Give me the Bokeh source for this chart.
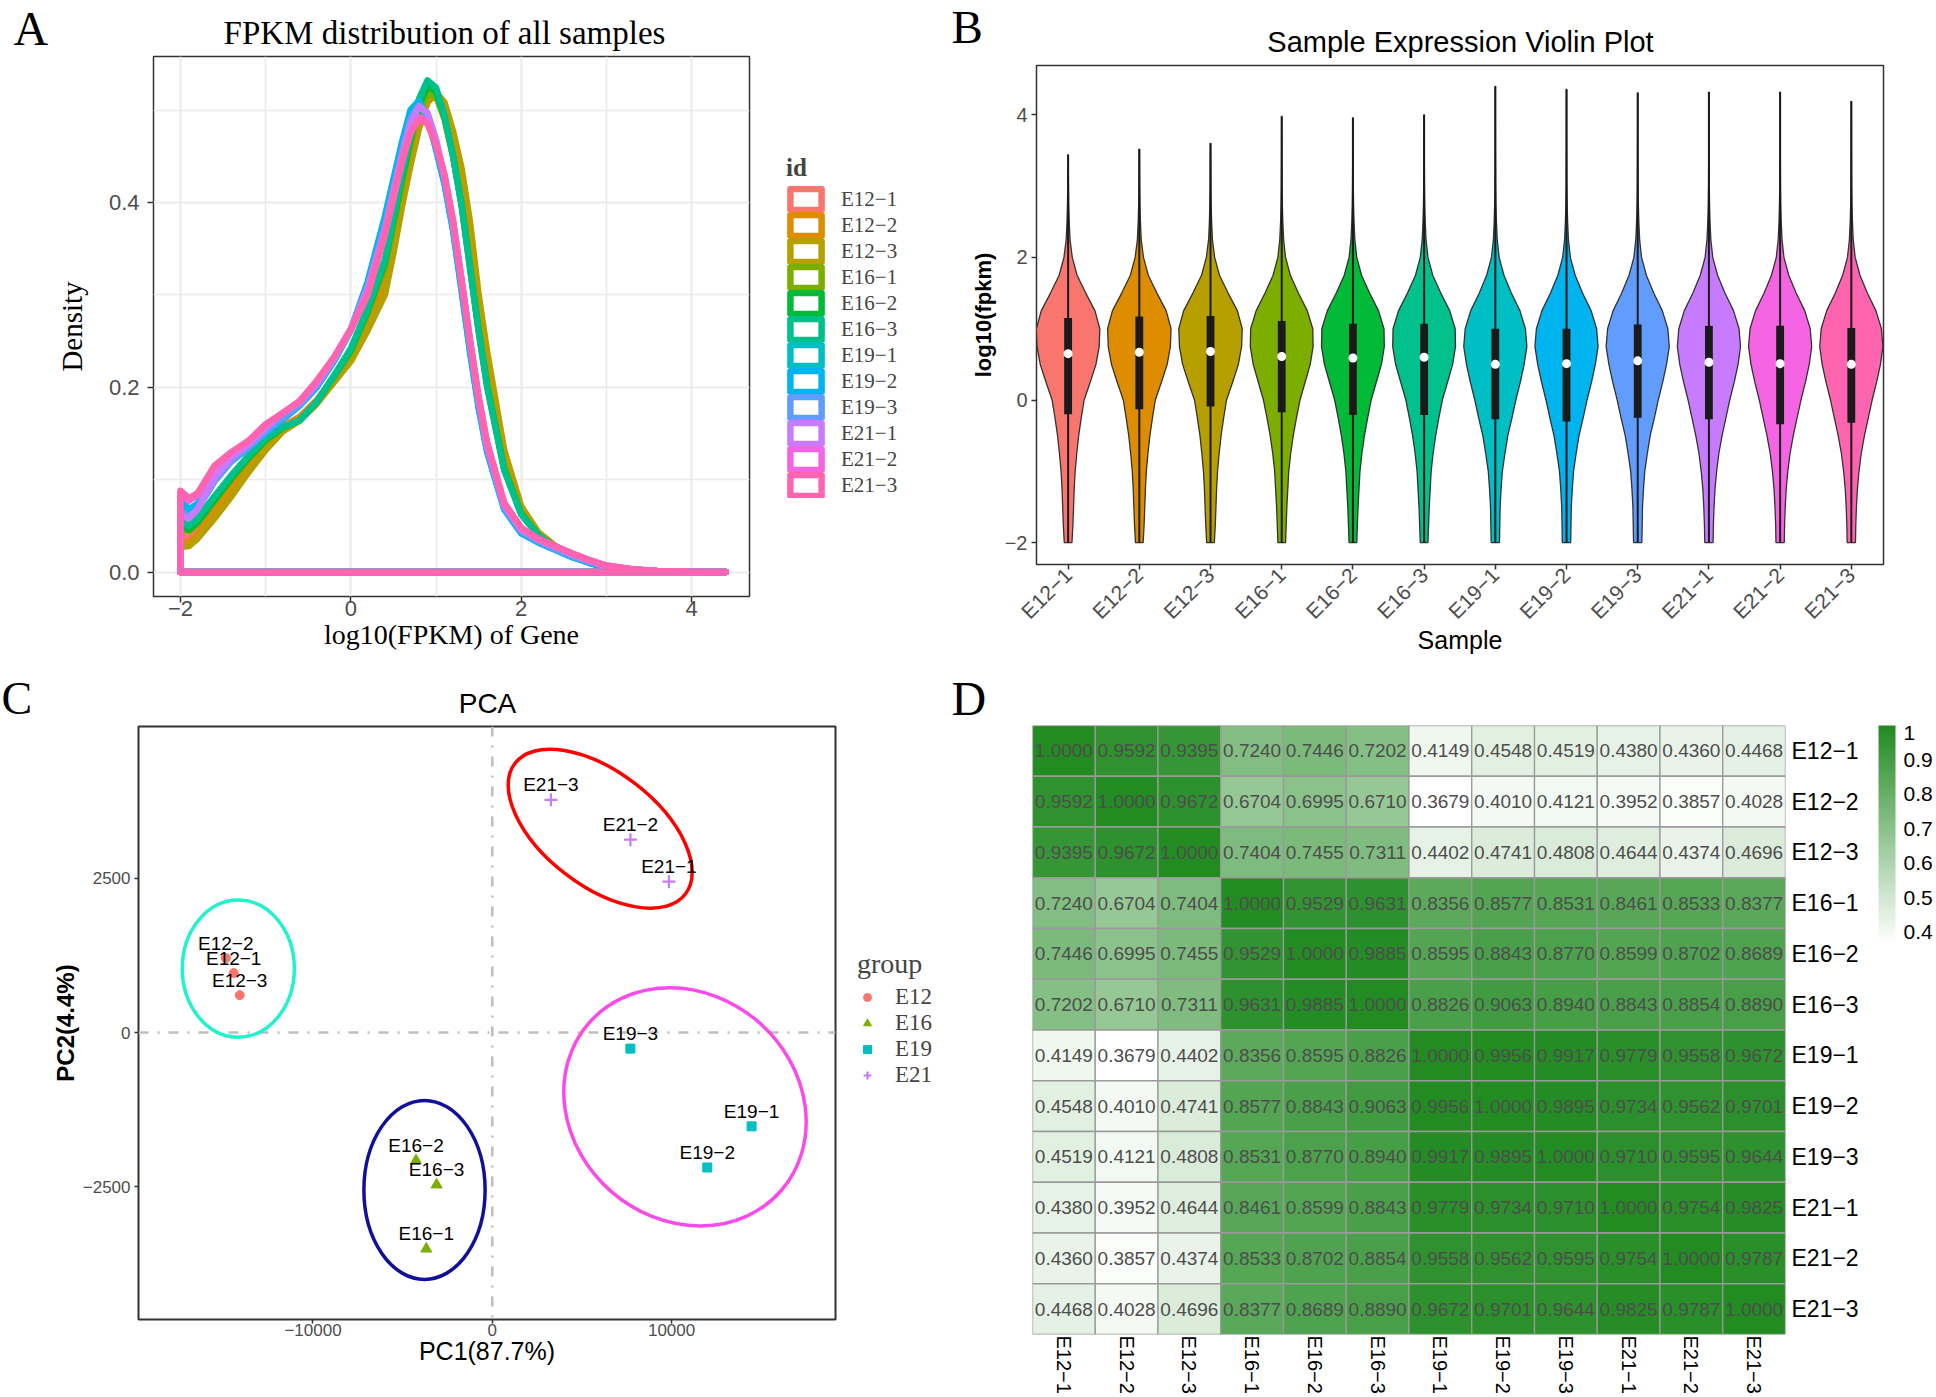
import math
from bokeh.plotting import figure
from bokeh.models import (Range1d, FactorRange, ColumnDataSource, FixedTicker, CategoricalAxis, Label,
                          Span, ColorBar, LinearColorMapper, PrintfTickFormatter, Legend, LegendItem)
from bokeh.transform import transform
from bokeh.layouts import column, row
from bokeh.embed import file_html
from bokeh.resources import INLINE
from bokeh.core.properties import value

MINUS = "\u2212"
SAMPLES = ["E12-1", "E12-2", "E12-3", "E16-1", "E16-2", "E16-3",
           "E19-1", "E19-2", "E19-3", "E21-1", "E21-2", "E21-3"]
SAMPLE_TEXT = [s.replace("-", MINUS) for s in SAMPLES]
HUE = ["#F8766D", "#DE8C00", "#B79F00", "#7CAE00", "#00BA38", "#00C08B",
       "#00BFC4", "#00B4F0", "#619CFF", "#C77CFF", "#F564E3", "#FF64B0"]

# ---------------- Panel A : density of log10(FPKM) ----------------
DENS_X = [-2.0, -1.9, -1.8, -1.6, -1.4, -1.2, -1.0, -0.8, -0.6, -0.4, -0.2, 0.0, 0.2, 0.4, 0.5,
          0.6, 0.7, 0.8, 0.9, 1.0, 1.1, 1.2, 1.3, 1.4, 1.5, 1.6, 1.8, 2.0, 2.2, 2.4, 2.6, 2.8,
          3.0, 3.3, 3.6, 4.0, 4.4]
DENS_E12_1 = [0.040, 0.036, 0.044, 0.068, 0.094, 0.118, 0.140, 0.158, 0.168, 0.186, 0.210, 0.232, 0.270, 0.315, 0.360,
              0.405, 0.448, 0.485, 0.510, 0.515, 0.498, 0.462, 0.415, 0.350, 0.280, 0.218, 0.122, 0.068, 0.042, 0.028,
              0.018, 0.011, 0.006, 0.002, 0.0008, 0.0002, 0.0]
DENS_E12_2 = [0.033, 0.031, 0.040, 0.064, 0.090, 0.115, 0.138, 0.156, 0.167, 0.185, 0.210, 0.234, 0.272, 0.318, 0.362,
              0.407, 0.450, 0.487, 0.511, 0.516, 0.500, 0.465, 0.420, 0.355, 0.285, 0.222, 0.125, 0.069, 0.042, 0.028,
              0.018, 0.011, 0.006, 0.002, 0.0008, 0.0002, 0.0]
DENS_E12_3 = [0.027, 0.028, 0.036, 0.058, 0.082, 0.108, 0.132, 0.152, 0.164, 0.182, 0.205, 0.228, 0.262, 0.300, 0.345,
              0.395, 0.440, 0.480, 0.508, 0.519, 0.508, 0.477, 0.437, 0.378, 0.300, 0.238, 0.132, 0.071, 0.043, 0.028,
              0.018, 0.011, 0.006, 0.002, 0.0008, 0.0002, 0.0]
DENS_E16_1 = [0.047, 0.044, 0.052, 0.076, 0.100, 0.122, 0.142, 0.156, 0.165, 0.184, 0.210, 0.238, 0.280, 0.330, 0.375,
              0.420, 0.462, 0.497, 0.518, 0.515, 0.490, 0.450, 0.398, 0.330, 0.262, 0.202, 0.112, 0.064, 0.040, 0.027,
              0.017, 0.010, 0.005, 0.002, 0.0008, 0.0002, 0.0]
DENS_E16_2 = [0.050, 0.046, 0.054, 0.078, 0.102, 0.124, 0.143, 0.156, 0.164, 0.184, 0.212, 0.240, 0.283, 0.335, 0.380,
              0.425, 0.468, 0.505, 0.526, 0.520, 0.492, 0.450, 0.398, 0.330, 0.262, 0.202, 0.112, 0.063, 0.040, 0.027,
              0.017, 0.010, 0.005, 0.002, 0.0008, 0.0002, 0.0]
DENS_E16_3 = [0.055, 0.050, 0.058, 0.082, 0.105, 0.126, 0.145, 0.157, 0.164, 0.184, 0.212, 0.242, 0.286, 0.338, 0.384,
              0.430, 0.474, 0.512, 0.532, 0.524, 0.494, 0.450, 0.396, 0.328, 0.260, 0.200, 0.110, 0.062, 0.040, 0.027,
              0.017, 0.010, 0.005, 0.002, 0.0008, 0.0002, 0.0]
DENS_E19_1 = [0.074, 0.066, 0.072, 0.100, 0.120, 0.134, 0.150, 0.165, 0.180, 0.200, 0.228, 0.262, 0.315, 0.385, 0.425,
              0.465, 0.500, 0.510, 0.492, 0.458, 0.420, 0.370, 0.305, 0.238, 0.178, 0.130, 0.068, 0.042, 0.032, 0.024,
              0.016, 0.010, 0.005, 0.002, 0.0007, 0.0002, 0.0]
DENS_E19_2 = [0.078, 0.068, 0.074, 0.102, 0.121, 0.135, 0.151, 0.166, 0.181, 0.201, 0.228, 0.262, 0.313, 0.382, 0.422,
              0.462, 0.497, 0.508, 0.492, 0.458, 0.420, 0.370, 0.305, 0.238, 0.178, 0.130, 0.068, 0.042, 0.032, 0.024,
              0.016, 0.010, 0.005, 0.002, 0.0007, 0.0002, 0.0]
DENS_E19_3 = [0.066, 0.060, 0.068, 0.098, 0.120, 0.135, 0.152, 0.167, 0.181, 0.202, 0.229, 0.262, 0.310, 0.375, 0.415,
              0.455, 0.490, 0.505, 0.495, 0.465, 0.425, 0.375, 0.312, 0.245, 0.183, 0.133, 0.070, 0.044, 0.033, 0.025,
              0.017, 0.011, 0.006, 0.002, 0.0007, 0.0002, 0.0]
DENS_E21_1 = [0.062, 0.058, 0.068, 0.102, 0.124, 0.138, 0.156, 0.172, 0.184, 0.204, 0.231, 0.263, 0.307, 0.370, 0.410,
              0.450, 0.486, 0.504, 0.497, 0.468, 0.428, 0.378, 0.315, 0.248, 0.186, 0.136, 0.072, 0.046, 0.035, 0.027,
              0.019, 0.012, 0.006, 0.003, 0.001, 0.0003, 0.0]
DENS_E21_2 = [0.085, 0.077, 0.083, 0.113, 0.129, 0.141, 0.159, 0.172, 0.185, 0.206, 0.232, 0.263, 0.302, 0.366, 0.404,
              0.443, 0.475, 0.492, 0.488, 0.462, 0.428, 0.380, 0.316, 0.250, 0.188, 0.138, 0.074, 0.047, 0.036, 0.028,
              0.020, 0.013, 0.007, 0.003, 0.001, 0.0003, 0.0]
DENS_E21_3 = [0.088, 0.080, 0.085, 0.115, 0.130, 0.142, 0.160, 0.172, 0.185, 0.207, 0.232, 0.262, 0.300, 0.365, 0.405,
              0.445, 0.475, 0.490, 0.485, 0.462, 0.430, 0.380, 0.315, 0.250, 0.190, 0.140, 0.075, 0.048, 0.036, 0.028,
              0.020, 0.013, 0.007, 0.003, 0.001, 0.0003, 0.0]
DENSITIES = [DENS_E12_1, DENS_E12_2, DENS_E12_3, DENS_E16_1, DENS_E16_2, DENS_E16_3,
             DENS_E19_1, DENS_E19_2, DENS_E19_3, DENS_E21_1, DENS_E21_2, DENS_E21_3]

# ---------------- Panel B : violins ----------------
VIOLIN_LEVELS = [-2.0, -1.75, -1.5, -1.25, -1.0, -0.75, -0.5, -0.25, 0.0, 0.25, 0.5, 0.75, 1.0,
                 1.25, 1.5, 1.75, 2.0, 2.25, 2.5, 2.75, 3.0, 3.5, 4.0]
VIOLIN_WIDTH_E12 = [0.12, 0.15, 0.17, 0.19, 0.22, 0.27, 0.33, 0.41, 0.50, 0.69, 0.87, 0.97, 0.99,
                    0.84, 0.55, 0.28, 0.13, 0.06, 0.035, 0.02, 0.012, 0.006, 0.004]
VIOLIN_WIDTH_E16 = [0.12, 0.14, 0.16, 0.19, 0.22, 0.28, 0.36, 0.46, 0.57, 0.73, 0.89, 0.98, 0.97,
                    0.80, 0.52, 0.27, 0.12, 0.06, 0.035, 0.02, 0.012, 0.006, 0.004]
VIOLIN_WIDTH_E19 = [0.13, 0.14, 0.15, 0.18, 0.22, 0.30, 0.39, 0.52, 0.64, 0.78, 0.90, 0.985, 0.94,
                    0.77, 0.50, 0.27, 0.12, 0.06, 0.035, 0.02, 0.012, 0.006, 0.004]
VIOLIN_WIDTH_E21 = [0.13, 0.14, 0.16, 0.19, 0.24, 0.31, 0.41, 0.53, 0.65, 0.79, 0.91, 0.985, 0.94,
                    0.77, 0.50, 0.27, 0.12, 0.06, 0.035, 0.02, 0.012, 0.006, 0.004]
VIOLIN_WIDTHS = {"E12": VIOLIN_WIDTH_E12, "E16": VIOLIN_WIDTH_E16,
                 "E19": VIOLIN_WIDTH_E19, "E21": VIOLIN_WIDTH_E21}
SAMPLE_GROUP = ["E12", "E12", "E12", "E16", "E16", "E16", "E19", "E19", "E19", "E21", "E21", "E21"]
VIOLIN_MIN = [-2.0] * 12
VIOLIN_MAX = [3.44, 3.52, 3.60, 3.98, 3.96, 4.00, 4.40, 4.36, 4.31, 4.32, 4.32, 4.19]
BOX_Q1 = [-0.20, -0.13, -0.09, -0.17, -0.21, -0.21, -0.27, -0.30, -0.25, -0.27, -0.34, -0.32]
BOX_MED = [0.65, 0.67, 0.68, 0.61, 0.59, 0.60, 0.50, 0.51, 0.55, 0.53, 0.51, 0.50]
BOX_Q3 = [1.15, 1.17, 1.18, 1.11, 1.07, 1.07, 1.00, 1.00, 1.06, 1.04, 1.04, 1.01]

# ---------------- Panel C : PCA ----------------
PC1 = [-14423, -14863, -14088, -3681, -4255, -3107, 14462, 11991, 7702, 9850, 7705, 3270]
PC2 = [964, 1208, 607, -3503, -2073, -2465, -1518, -2185, -259, 2445, 3125, 3770]
GROUPS = ["E12", "E16", "E19", "E21"]
GROUP_COLOR = ["#F8766D", "#7CAE00", "#00BFC4", "#C77CFF"]
GROUP_MARKER = ["circle", "triangle", "square", "cross"]
ELL_CX = [-14166, -3781, 10747, 6018]
ELL_CY = [1037, -2548, -1203, 3303]
ELL_W = [6252, 6760, 14222, 11980]
ELL_H = [2222, 2902, 3638, 1846]
ELL_ANGLE_DEG = [0.0, 0.0, -41.0, -37.5]
ELL_COLOR = ["#22F2CE", "#10109A", "#FA4BEA", "#FF0000"]

# ---------------- Panel D : correlation heatmap ----------------
CORR = [
    [1.0000, 0.9592, 0.9395, 0.7240, 0.7446, 0.7202, 0.4149, 0.4548, 0.4519, 0.4380, 0.4360, 0.4468],
    [0.9592, 1.0000, 0.9672, 0.6704, 0.6995, 0.6710, 0.3679, 0.4010, 0.4121, 0.3952, 0.3857, 0.4028],
    [0.9395, 0.9672, 1.0000, 0.7404, 0.7455, 0.7311, 0.4402, 0.4741, 0.4808, 0.4644, 0.4374, 0.4696],
    [0.7240, 0.6704, 0.7404, 1.0000, 0.9529, 0.9631, 0.8356, 0.8577, 0.8531, 0.8461, 0.8533, 0.8377],
    [0.7446, 0.6995, 0.7455, 0.9529, 1.0000, 0.9885, 0.8595, 0.8843, 0.8770, 0.8599, 0.8702, 0.8689],
    [0.7202, 0.6710, 0.7311, 0.9631, 0.9885, 1.0000, 0.8826, 0.9063, 0.8940, 0.8843, 0.8854, 0.8890],
    [0.4149, 0.3679, 0.4402, 0.8356, 0.8595, 0.8826, 1.0000, 0.9956, 0.9917, 0.9779, 0.9558, 0.9672],
    [0.4548, 0.4010, 0.4741, 0.8577, 0.8843, 0.9063, 0.9956, 1.0000, 0.9895, 0.9734, 0.9562, 0.9701],
    [0.4519, 0.4121, 0.4808, 0.8531, 0.8770, 0.8940, 0.9917, 0.9895, 1.0000, 0.9710, 0.9595, 0.9644],
    [0.4380, 0.3952, 0.4644, 0.8461, 0.8599, 0.8843, 0.9779, 0.9734, 0.9710, 1.0000, 0.9754, 0.9825],
    [0.4360, 0.3857, 0.4374, 0.8533, 0.8702, 0.8854, 0.9558, 0.9562, 0.9595, 0.9754, 1.0000, 0.9787],
    [0.4468, 0.4028, 0.4696, 0.8377, 0.8689, 0.8890, 0.9672, 0.9701, 0.9644, 0.9825, 0.9787, 1.0000],
]
COLORBAR_TICKS = [0.4, 0.5, 0.6, 0.7, 0.8, 0.9, 1]

SANS = "Liberation Sans"
SERIF = "Liberation Serif"
TICK_GREY = "#4D4D4D"


def blank(width, height, flip=False):
    """A figure with no axes whose frame fills it (used for headers and legends)."""
    yr = Range1d(height, 0) if flip else Range1d(0, height)
    f = figure(width=width, height=height, x_range=Range1d(0, width), y_range=yr,
               output_backend="svg", toolbar_location=None, frame_align=False,
               x_axis_location=None, y_axis_location=None, min_border=0)
    f.outline_line_color = None
    f.xgrid.visible = False
    f.ygrid.visible = False
    return f


def header(width, height, items):
    # items: (x, y of the capital-letter centre, text, font, size, align)
    h = blank(width, height, flip=True)
    for (x, y, text, font, size, align) in items:
        h.add_layout(Label(x=x, y=y, text=text, text_font=font, text_font_size=f"{size}px",
                           text_font_style="normal", text_align=align,
                           text_baseline="middle", text_color="black"))
    return h


def style_axes(p, tick_size, tick_out=5, standoff=4):
    for ax in (p.xaxis + p.yaxis):
        ax.axis_line_color = None
        ax.major_tick_line_color = "#333333"
        ax.major_tick_line_width = 1.5
        ax.major_tick_out = tick_out
        ax.major_tick_in = 0
        ax.minor_tick_line_color = None
        ax.major_label_text_font = SANS
        ax.major_label_text_font_size = f"{tick_size}px"
        ax.major_label_text_color = TICK_GREY
        ax.major_label_standoff = standoff
        ax.axis_label_text_font_style = "normal"
        ax.axis_label_text_color = "black"


# ======================= Panel A =======================
hA = header(950, 55, [(13, 27.5, "A", SERIF, 48, "left"),
                      (444, 32.5, "FPKM distribution of all samples", SERIF, 33, "center")])

pA = figure(width=760, height=605, x_range=Range1d(-2.316, 4.679), y_range=Range1d(-0.0265, 0.5579),
            output_backend="svg", toolbar_location=None, frame_align=False,
            min_border_left=153, min_border_right=11, min_border_top=1, min_border_bottom=64)
pA.outline_line_color = "#333333"
pA.outline_line_width = 1.5
style_axes(pA, 22, tick_out=6, standoff=-2)
pA.yaxis.major_label_standoff = 8
pA.xaxis.ticker = FixedTicker(ticks=[-2, 0, 2, 4], minor_ticks=[-1, 1, 3])
pA.yaxis.ticker = FixedTicker(ticks=[0, 0.2, 0.4], minor_ticks=[0.1, 0.3, 0.5])
pA.xaxis.major_label_overrides = {-2: MINUS + "2"}
pA.yaxis.formatter = PrintfTickFormatter(format="%.1f")
pA.xaxis.axis_label = "log10(FPKM) of Gene"
pA.yaxis.axis_label = "Density"
pA.xaxis.axis_label_text_font = SERIF
pA.yaxis.axis_label_text_font = SERIF
pA.xaxis.axis_label_text_font_size = "28px"
pA.yaxis.axis_label_text_font_size = "29px"
pA.xaxis.axis_label_standoff = 0
pA.yaxis.axis_label_standoff = 18
for g in (pA.xgrid[0], pA.ygrid[0]):
    g.grid_line_color = "#EBEBEB"
    g.grid_line_width = 2.2
    g.minor_grid_line_color = "#EBEBEB"
    g.minor_grid_line_width = 1.6

for i, dens in enumerate(DENSITIES):
    xs = [DENS_X[0]] + DENS_X + [DENS_X[0]]
    ys = [0.0] + dens + [0.0]
    pA.patch(xs, ys, fill_color=None, line_color=HUE[i], line_width=6.5, line_join="round")

# legend of panel A, in its own axis-less figure (key glyphs lie outside its visible range)
lgA = blank(190, 605)
itemsA = []
for i in range(12):
    r = lgA.patch([-20, -10, -10], [-20, -20, -10], fill_color=None, line_color=HUE[i],
                  line_width=6.5, line_join="round")
    itemsA.append(LegendItem(label=SAMPLE_TEXT[i], renderers=[r]))
legA = Legend(items=itemsA, location=(26, 162), margin=0, padding=0, spacing=0,
              title="id", title_text_font=SERIF, title_text_font_style="bold",
              title_text_font_size="25px", title_standoff=4,
              label_text_font=SERIF, label_text_font_size="21px",
              glyph_width=39, glyph_height=26, label_height=26, label_standoff=16,
              border_line_color=None, background_fill_alpha=0)
lgA.add_layout(legA, "center")

# ======================= Panel B =======================
hB = header(986, 60, [(1, 26.5, "B", SERIF, 47, "left"),
                      (510, 41.5, "Sample Expression Violin Plot", SANS, 29, "center")])

pB = figure(width=986, height=600, x_range=Range1d(0.556, 12.452), y_range=Range1d(-2.307, 4.692),
            output_backend="svg", toolbar_location=None, frame_align=False,
            min_border_left=86, min_border_right=53, min_border_top=5, min_border_bottom=96)
pB.outline_line_color = "#333333"
pB.outline_line_width = 1.5
pB.xgrid.visible = False
pB.ygrid.visible = False
style_axes(pB, 20, tick_out=5, standoff=4)
pB.yaxis.ticker = FixedTicker(ticks=[-2, 0, 2, 4])
pB.yaxis.major_label_overrides = {-2: MINUS + "2"}
pB.xaxis.ticker = FixedTicker(ticks=list(range(1, 13)))
pB.xaxis.major_label_overrides = {i + 1: SAMPLE_TEXT[i] for i in range(12)}
pB.xaxis.major_label_orientation = math.pi / 4
pB.xaxis.major_label_text_font_size = "21px"
pB.xaxis.major_label_standoff = 2
pB.xaxis.axis_label = "Sample"
pB.xaxis.axis_label_text_font = SANS
pB.xaxis.axis_label_text_font_size = "25px"
pB.xaxis.axis_label_standoff = -8
pB.yaxis.axis_label = "log10(fpkm)"
pB.yaxis.axis_label_text_font = SANS
pB.yaxis.axis_label_text_font_size = "22px"
pB.yaxis.axis_label_text_font_style = "bold"
pB.yaxis.axis_label_standoff = 6

for i in range(12):
    widths = VIOLIN_WIDTHS[SAMPLE_GROUP[i]]
    top = VIOLIN_MAX[i]
    lv = [v for v in VIOLIN_LEVELS if v < top]
    wd = widths[:len(lv)] + [0.004]
    lv = lv + [top]
    c = i + 1
    xs = [c + 0.45 * w for w in wd] + [c - 0.45 * w for w in reversed(wd)]
    ys = lv + lv[::-1]
    pB.patch(xs, ys, fill_color=HUE[i], line_color="#333333", line_width=1.3)

xpos = list(range(1, 13))
pB.segment(x0=xpos, y0=VIOLIN_MIN, x1=xpos, y1=VIOLIN_MAX, line_color="#1A1A1A", line_width=2)
pB.vbar(x=xpos, width=0.11, bottom=BOX_Q1, top=BOX_Q3, fill_color="#1A1A1A", line_color=None)
pB.scatter(x=xpos, y=BOX_MED, size=9, marker="circle", fill_color="white", line_color=None)

# ======================= Panel C =======================
hC = header(950, 64, [(1, 38, "C", SERIF, 46, "left"),
                      (487, 43.3, "PCA", SANS, 28, "center")])

pC = figure(width=845, height=673, x_range=Range1d(-19732, 19141), y_range=Range1d(-4647, 4958),
            output_backend="svg", toolbar_location=None, frame_align=False,
            min_border_left=138, min_border_right=10, min_border_top=2, min_border_bottom=78)
pC.outline_line_color = "#333333"
pC.outline_line_width = 2
pC.xgrid.visible = False
pC.ygrid.visible = False
style_axes(pC, 17, tick_out=4, standoff=4)
pC.xaxis.major_label_standoff = 0
pC.xaxis.ticker = FixedTicker(ticks=[-10000, 0, 10000])
pC.yaxis.ticker = FixedTicker(ticks=[-2500, 0, 2500])
pC.xaxis.major_label_overrides = {-10000: MINUS + "10000"}
pC.yaxis.major_label_overrides = {-2500: MINUS + "2500"}
pC.xaxis.axis_label = "PC1(87.7%)"
pC.yaxis.axis_label = "PC2(4.4%)"
pC.xaxis.axis_label_text_font = SANS
pC.yaxis.axis_label_text_font = SANS
pC.xaxis.axis_label_text_font_size = "25px"
pC.yaxis.axis_label_text_font_size = "24px"
pC.yaxis.axis_label_text_font_style = "bold"
pC.xaxis.axis_label_standoff = -2
pC.yaxis.axis_label_standoff = 1

dash = "10 9 2 9"
pC.add_layout(Span(location=0, dimension="height", line_color="#BEBEBE", line_width=2.5,
                   line_dash=dash, level="underlay"))
pC.add_layout(Span(location=0, dimension="width", line_color="#BEBEBE", line_width=2.5,
                   line_dash=dash, level="underlay"))

pC.ellipse(x=ELL_CX, y=ELL_CY, width=ELL_W, height=ELL_H,
           angle=[math.radians(a) for a in ELL_ANGLE_DEG],
           fill_color=None, line_color=ELL_COLOR, line_width=3.5)

lgC = blank(105, 673)
itemsC = []
for gi, grp in enumerate(GROUPS):
    idx = [k for k in range(12) if SAMPLE_GROUP[k] == grp]
    gx = [PC1[k] for k in idx]
    gy = [PC2[k] for k in idx]
    if GROUP_MARKER[gi] == "cross":
        kw = dict(marker="cross", size=13, line_color=GROUP_COLOR[gi], line_width=2.2)
    else:
        kw = dict(marker=GROUP_MARKER[gi], size=11 if GROUP_MARKER[gi] == "triangle" else 9,
                  fill_color=GROUP_COLOR[gi], line_color=GROUP_COLOR[gi])
    pC.scatter(gx, gy, **kw)
    r = lgC.scatter([-100], [-100], **kw)
    itemsC.append(LegendItem(label=grp, renderers=[r]))

pC.text(x=PC1, y=PC2, text=SAMPLE_TEXT, text_font=value(SANS), text_font_size="19px",
        text_color="black", text_align="center", text_baseline="middle", y_offset=-15)

legC = Legend(items=itemsC, location=(12, 309), margin=0, padding=0, spacing=0,
              title="group", title_text_font=SERIF, title_text_font_style="normal",
              title_text_font_size="28px", title_standoff=4,
              label_text_font=SERIF, label_text_font_size="23px",
              glyph_width=20, glyph_height=24, label_height=24, label_standoff=18,
              border_line_color=None, background_fill_alpha=0)
lgC.add_layout(legC, "center")

# ======================= Panel D =======================
hD = header(986, 65, [(1, 38.4, "D", SERIF, 48, "left")])

pal = []
for k in range(100):
    t = k / 99.0
    rr = round(255 + (34 - 255) * t)
    gg = round(255 + (139 - 255) * t)
    bb = round(255 + (34 - 255) * t)
    pal.append("#%02x%02x%02x" % (rr, gg, bb))
vmin = min(min(r_) for r_ in CORR)
mapper = LinearColorMapper(palette=pal, low=vmin, high=1.0)

pD = figure(width=986, height=672, x_range=FactorRange(factors=SAMPLE_TEXT),
            y_range=FactorRange(factors=SAMPLE_TEXT[::-1]),
            output_backend="svg", toolbar_location=None, frame_align=False,
            x_axis_location=None, y_axis_location=None,
            min_border_left=82, min_border_right=151, min_border_top=0, min_border_bottom=63)
pD.outline_line_color = None
pD.xgrid.visible = False
pD.ygrid.visible = False

cx, cy, cv, ct = [], [], [], []
for i in range(12):
    for j in range(12):
        cx.append(SAMPLE_TEXT[j])
        cy.append(SAMPLE_TEXT[i])
        cv.append(CORR[i][j])
        ct.append("%.4f" % CORR[i][j])
srcD = ColumnDataSource(dict(x=cx, y=cy, v=cv, t=ct))
pD.rect(x="x", y="y", width=1, height=1, source=srcD, fill_color=transform("v", mapper),
        line_color="#9A9A9A", line_width=1.3)
pD.text(x="x", y="y", text="t", source=srcD, text_font=value(SANS), text_font_size="19px",
        text_color=TICK_GREY, text_align="center", text_baseline="middle")

for side, orient in (("right", "horizontal"), ("below", -math.pi / 2)):
    ax = CategoricalAxis()
    ax.axis_line_color = None
    ax.major_tick_line_color = None
    ax.minor_tick_line_color = None
    ax.major_tick_out = 0
    ax.major_tick_in = 0
    ax.major_label_standoff = 6 if side == "right" else 1
    ax.major_label_text_font = SANS
    ax.major_label_text_font_size = "23px" if side == "right" else "20px"
    ax.major_label_text_color = "black"
    ax.major_label_orientation = orient
    pD.add_layout(ax, side)

cb = ColorBar(color_mapper=mapper, location=(846, 391), width=17, height=218, padding=0,
              ticker=FixedTicker(ticks=COLORBAR_TICKS), major_label_overrides={1: "1"},
              major_label_text_font=SANS, major_label_text_font_size="21px",
              major_label_text_color="black", major_tick_line_color=None,
              bar_line_color=None, label_standoff=8, background_fill_alpha=0,
              border_line_color=None)
pD.add_layout(cb, "center")

top_row = row(column(hA, row(pA, lgA)), column(hB, pB))
bottom_row = row(column(hC, row(pC, lgC)), column(hD, pD))
layout = column(top_row, bottom_row)
open("out.html", "w").write(file_html(layout, INLINE))
